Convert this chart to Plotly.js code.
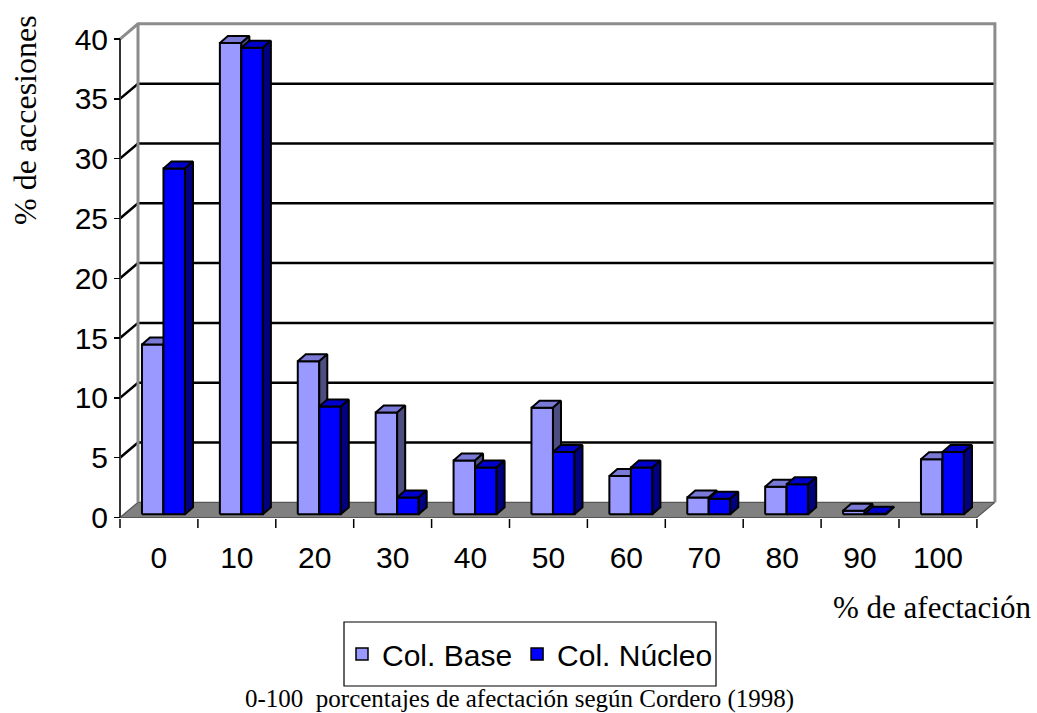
<!DOCTYPE html>
<html>
<head>
<meta charset="utf-8">
<script src="https://cdn.plot.ly/plotly-3.0.1.min.js"></script>
<style>
  html, body { margin: 0; padding: 0; background: #ffffff; }
  #chart { width: 1037px; height: 713px; }
</style>
</head>
<body>
<div id="chart"></div>
<script>
// ---- Data -------------------------------------------------------------
const categories = ['0', '10', '20', '30', '40', '50', '60', '70', '80', '90', '100'];
const colBase    = [14.2, 39.4, 12.8, 8.5, 4.5, 8.9, 3.2, 1.4, 2.3, 0.3, 4.6];
const colNucleo  = [28.9, 39.0, 9.0, 1.4, 3.9, 5.2, 3.9, 1.3, 2.5, 0.05, 5.2];
const valueTicks = [0, 5, 10, 15, 20, 25, 30, 35, 40];
const seriesNames = ['Col. Base', 'Col. Núcleo'];

// ---- Pseudo-3D geometry (category units on x, value units on y) -------
const WALL = { dx: 0.231, dy: 1.27 };            // depth of floor / back wall
const BAR  = { width: 0.276, shiftX: 0.058, shiftY: 0.27, dx: 0.103, dy: 0.585 };
const COLORS = {
  base:   { front: '#9999FF', top: '#7A7AD6', side: '#4D4D80' },
  nucleo: { front: '#0000FF', top: '#0000CC', side: '#000080' }
};
const SANS = 'Liberation Sans, Arial, sans-serif';
const SERIF = 'Liberation Serif, Times New Roman, serif';

const nCat = categories.length;
const vTop = valueTicks[valueTicks.length - 1];

// Layout frame in pixels
const W = 1037, H = 713;
const M = { l: 118, r: 40, t: 18, b: 185 };
const plotW = W - M.l - M.r, plotH = H - M.t - M.b;
const xRange = [-0.0257, 11.258];
const yRange = [-0.878, 41.76];
const valPx = plotH / (yRange[1] - yRange[0]);

function seg(xs, ys, x, y) { x.push(...xs, null); y.push(...ys, null); }

// Faces of one series' boxes: front, top and right side
function boxFaces(values, leftOffset) {
  const f = { x: [], y: [] }, t = { x: [], y: [] }, s = { x: [], y: [] };
  values.forEach((v, i) => {
    const xl = i + 0.5 + leftOffset + BAR.shiftX;
    const xr = xl + BAR.width;
    const yb = BAR.shiftY;
    const yt = yb + v;
    seg([xl, xr, xr, xl, xl], [yb, yb, yt, yt, yb], f.x, f.y);
    seg([xl, xr, xr + BAR.dx, xl + BAR.dx, xl], [yt, yt, yt + BAR.dy, yt + BAR.dy, yt], t.x, t.y);
    seg([xr, xr + BAR.dx, xr + BAR.dx, xr, xr], [yb, yb + BAR.dy, yt + BAR.dy, yt, yb], s.x, s.y);
  });
  return { front: f, top: t, side: s };
}

function poly(pts, fill, lineColor, lineWidth) {
  return {
    type: 'scatter', mode: 'lines', x: pts.x, y: pts.y,
    fill: 'toself', fillcolor: fill,
    line: { color: lineColor, width: lineWidth },
    hoverinfo: 'skip', showlegend: false
  };
}
function lines(pts, color, width) {
  return {
    type: 'scatter', mode: 'lines', x: pts.x, y: pts.y,
    line: { color: color, width: width },
    hoverinfo: 'skip', showlegend: false
  };
}

const traces = [];

// Floor
const floor = { x: [], y: [] };
seg([0, nCat, nCat + WALL.dx, WALL.dx, 0], [0, 0, WALL.dy, WALL.dy, 0], floor.x, floor.y);
traces.push(poly(floor, '#808080', '#555555', 1.2));

// Gridlines on the side and back walls
const grid = { x: [], y: [] };
valueTicks.slice(1, -1).forEach(v => {
  seg([0, WALL.dx, nCat + WALL.dx], [v, v + WALL.dy, v + WALL.dy], grid.x, grid.y);
});
traces.push(lines(grid, '#000000', 2.5));

// Back wall border
const border = { x: [], y: [] };
seg([WALL.dx, WALL.dx], [WALL.dy, vTop + WALL.dy], border.x, border.y);
seg([0, WALL.dx, nCat + WALL.dx, nCat + WALL.dx],
    [vTop, vTop + WALL.dy, vTop + WALL.dy, WALL.dy], border.x, border.y);
traces.push(lines(border, '#8C8C8C', 3));

// Front value axis
const axisLine = { x: [], y: [] };
seg([0, 0], [0, vTop], axisLine.x, axisLine.y);
traces.push(lines(axisLine, '#333333', 2));

// Category boundary ticks below the floor edge
const catTicks = { x: [], y: [] };
for (let i = 0; i <= nCat; i++) {
  seg([i, i], [yRange[0], yRange[0] + 9 / valPx], catTicks.x, catTicks.y);
}
traces.push(lines(catTicks, '#000000', 1.5));

// Boxes: base series then nucleus series, so nearer faces cover hidden ones
const baseFaces = boxFaces(colBase, -BAR.width);
const nucFaces = boxFaces(colNucleo, 0);
traces.push(poly(baseFaces.front, COLORS.base.front, '#000000', 2));
traces.push(poly(baseFaces.top, COLORS.base.top, '#000000', 2));
traces.push(poly(baseFaces.side, COLORS.base.side, '#000000', 2));
traces.push(poly(nucFaces.front, COLORS.nucleo.front, '#000000', 2));
traces.push(poly(nucFaces.top, COLORS.nucleo.top, '#000000', 2));
traces.push(poly(nucFaces.side, COLORS.nucleo.side, '#000000', 2));

// Legend entries
traces.push({ type: 'bar', x: [null], y: [null], name: seriesNames[0],
  marker: { color: COLORS.base.front, line: { color: '#000000', width: 1.5 } }, hoverinfo: 'skip' });
traces.push({ type: 'bar', x: [null], y: [null], name: seriesNames[1],
  marker: { color: COLORS.nucleo.front, line: { color: '#000000', width: 1.5 } }, hoverinfo: 'skip' });

const px2x = p => (p - M.l) / plotW;
const px2y = p => (M.t + plotH - p) / plotH;

const layout = {
  width: W, height: H,
  margin: M,
  paper_bgcolor: '#ffffff', plot_bgcolor: '#ffffff',
  showlegend: true,
  xaxis: {
    range: xRange, fixedrange: true,
    tickmode: 'array',
    tickvals: categories.map((_, i) => i + 0.5),
    ticktext: categories,
    ticks: '', ticklabelstandoff: 9,
    showgrid: false, zeroline: false, showline: false,
    tickfont: { family: SANS, size: 30, color: '#000000' }
  },
  yaxis: {
    range: yRange, fixedrange: true,
    anchor: 'free', position: (2 / plotW),
    tickmode: 'array', tickvals: valueTicks,
    ticks: 'outside', ticklen: 6, tickwidth: 1.5, tickcolor: '#000000',
    ticklabelstandoff: 0,
    showgrid: false, zeroline: false, showline: false,
    tickfont: { family: SANS, size: 30, color: '#000000' }
  },
  legend: {
    orientation: 'h',
    x: px2x(530), xanchor: 'center',
    y: px2y(654), yanchor: 'middle',
    font: { family: SANS, size: 30, color: '#000000' },
    bgcolor: 'rgba(0,0,0,0)', borderwidth: 0,
    itemclick: false, itemdoubleclick: false
  },
  shapes: [{
    type: 'rect', xref: 'paper', yref: 'paper',
    x0: px2x(344), x1: px2x(716), y0: px2y(686), y1: px2y(622),
    line: { color: '#000000', width: 1.2 }, fillcolor: 'rgba(0,0,0,0)'
  }],
  annotations: [
    {
      text: '% de accesiones', textangle: -90,
      xref: 'paper', yref: 'paper', x: px2x(25), y: px2y(120),
      xanchor: 'center', yanchor: 'middle', showarrow: false,
      font: { family: SERIF, size: 32, color: '#000000' }
    },
    {
      text: '% de afectación',
      xref: 'paper', yref: 'paper', x: px2x(932), y: px2y(608),
      xanchor: 'center', yanchor: 'middle', showarrow: false,
      font: { family: SERIF, size: 31, color: '#000000' }
    },
    {
      text: '0-100 \u00A0porcentajes de afectación según Cordero (1998)',
      xref: 'paper', yref: 'paper', x: px2x(519), y: px2y(699),
      xanchor: 'center', yanchor: 'middle', showarrow: false,
      font: { family: SERIF, size: 25, color: '#000000' }
    }
  ]
};

Plotly.newPlot('chart', traces, layout, { staticPlot: true, displayModeBar: false });
</script>
</body>
</html>
